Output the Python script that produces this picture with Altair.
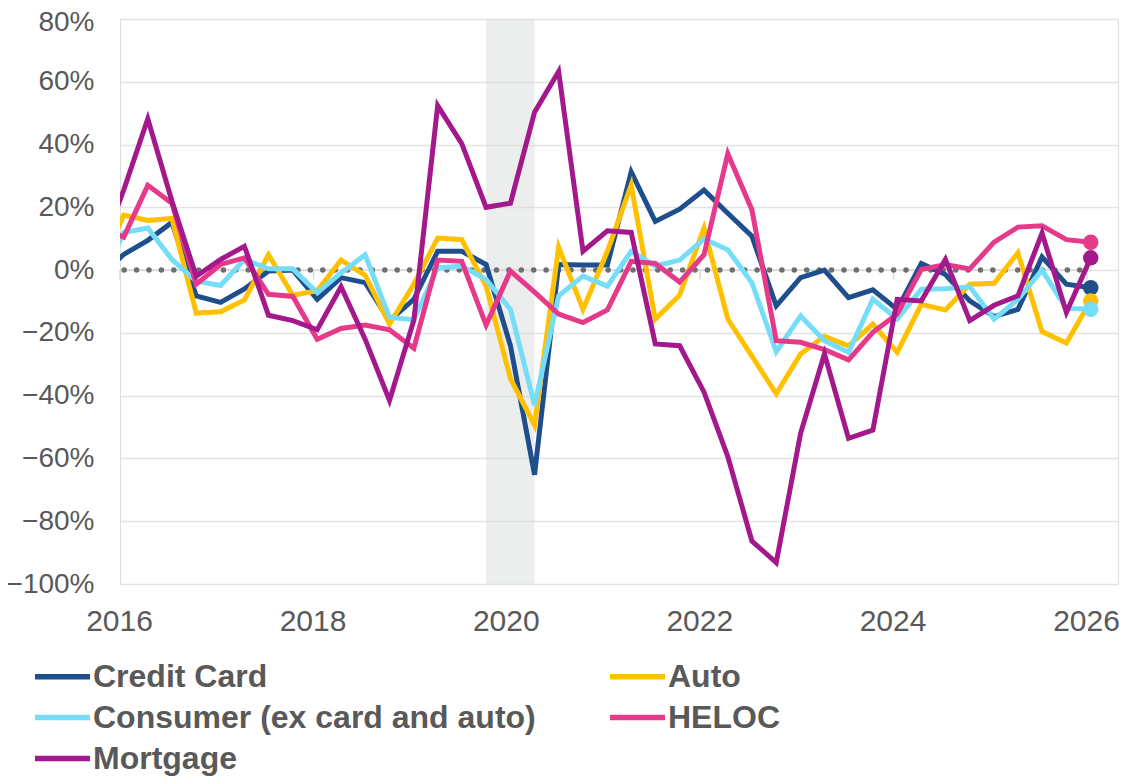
import altair as alt
import pandas as pd

# Quarterly observation dates (first one sits just before the axis start and is clipped)
dates = ["2015-10-15"] + [f"{y}-{m:02d}-15" for y in range(2016, 2026) for m in (1, 4, 7, 10)] + ["2026-01-15"]

series_names = ["Credit Card", "Auto", "Consumer (ex card and auto)", "HELOC", "Mortgage"]
series_colors = ["#1F4E8D", "#FFC000", "#76DDF9", "#E6398A", "#A3198B"]

credit_card = [-2, 5, 9.5, 15.2, -8.2, -10.3, -6, -0.3, 0, -9.3, -2.4, -4, -16.1, -9.3, 6, 6, 1.8,
               -24.1, -65.2, 1.8, 1.6, 1.6, 31.3, 15.5, 19.4, 25.5, 18.1, 10.8, -11.4, -2.4, 0,
               -8.8, -6.3, -12.5, 2.1, -1.4, -9.8, -14.8, -12.5, 4.2, -4.5, -5.6]
auto = [0, 17.5, 15.8, 16.5, -13.7, -13.3, -9.5, 4.9, -8, -6.6, 3.2, -1.6, -17.2, -4.5, 10.2, 9.7,
        -5.1, -34.6, -49.4, 7.3, -12.5, 6, 27.1, -15.6, -8, 13.4, -15.6, -27.4, -39.4, -26.7,
        -21.1, -24.1, -17.2, -26.2, -10.9, -12.7, -4.5, -4.2, 5.5, -19.6, -23.2, -9.8]
consumer = [-5, 12, 13.4, 3.4, -3.5, -4.9, 3.4, 0.4, 0.4, -7.2, -0.9, 4.9, -15.1, -15.8, 0.7, 1.3,
            -3, -12.5, -43, -8.2, -1.9, -5.1, 6, 1.3, 3.2, 9.9, 6.5, -4, -26, -14.6, -22.5, -26.2,
            -9.3, -15.6, -6.1, -5.9, -5.3, -15.6, -9.3, 0, -12.2, -12.5]
heloc = [14, 10.5, 27, 21.3, -4.5, 1.8, 3.9, -7.7, -8.4, -22, -18.6, -17.5, -19, -24.9, 3.2, 2.8,
         -17.5, -0.3, -7, -14, -16.7, -12.7, 2.8, 2.1, -3.8, 4.9, 37.1, 19.2, -22.5, -23, -25.3,
         -28.6, -19.8, -14, 0.2, 1.8, 0.4, 8.9, 13.7, 14.1, 9.7, 8.9]
mortgage = [5, 25.5, 48.2, 22, -2, 3.4, 7.6, -14.4, -16.1, -19, -5.3, -22, -41.5, -16, 52.4, 40.3,
            20, 21.3, 50.3, 63.3, 6, 12.5, 12, -23.5, -24.1, -38.8, -59.4, -86.3, -93.2, -52, -26.7,
            -53.6, -51, -9.3, -9.8, 3.4, -16.1, -11.2, -8.2, 11.8, -13.5, 3.9]

recession_start = ["2019-10-15"]
recession_end = ["2020-04-15"]
x_tick_years = [2016, 2018, 2020, 2022, 2024, 2026]

all_values = [credit_card, auto, consumer, heloc, mortgage]
rows = []
for name, vals in zip(series_names, all_values):
    for d, v in zip(dates, vals):
        rows.append({"date": d, "value": v, "series": name})
df = pd.DataFrame(rows)
last_df = df[df["date"] == dates[-1]]

band_df = pd.DataFrame({"start": recession_start, "end": recession_end})
zero_df = pd.DataFrame({"start": [dates[0]], "end": [dates[-1]], "zero": [0]})
tick_df = pd.DataFrame({"date": [f"{y}-01-01" for y in x_tick_years]})

FONT = "Liberation Sans"
TXT = "#595959"

x_scale = alt.Scale(domain=[alt.DateTime(year=2016, month=1, date=1),
                            alt.DateTime(year=2026, month=4, date=28)])
y_scale = alt.Scale(domain=[-100, 80], nice=False, zero=False)

x_axis = alt.Axis(values=[alt.DateTime(year=y, month=1, date=1) for y in x_tick_years],
                  format="%Y", title=None, grid=False, domain=False, ticks=False,
                  labelFontSize=30, labelColor=TXT, labelFont=FONT, labelPadding=22,
                  labelFlush=False, labelOffset=-1)
y_axis = alt.Axis(values=list(range(-100, 81, 20)), title=None, grid=True, domain=False,
                  ticks=False, labelExpr="format(datum.value/100, '.0%')",
                  labelOffset=alt.ExprRef(expr="datum.value == 80 ? 3 : 0"),
                  labelFontSize=28, labelColor=TXT, labelFont=FONT, labelPadding=26,
                  gridColor="#E3E3E3", gridWidth=1.6)

color = alt.Color("series:N",
                  scale=alt.Scale(domain=series_names, range=series_colors),
                  legend=alt.Legend(orient="none", legendX=-74, legendY=641, columns=2,
                                    direction="horizontal",
                                    title=None, symbolType="M-2,0H2", symbolSize=756,
                                    symbolStrokeWidth=5.5, labelFontSize=32,
                                    labelFontWeight="bold", labelColor=TXT, labelFont=FONT,
                                    labelOffset=14, labelLimit=0, columnPadding=63,
                                    rowPadding=8, padding=0))

band = alt.Chart(band_df).mark_rect(color="#D5DAD8", opacity=0.45).encode(
    x=alt.X("start:T", scale=x_scale, axis=x_axis),
    x2="end:T",
    y=alt.datum(-100, scale=y_scale, axis=y_axis),
    y2=alt.datum(80),
)

axis_line = alt.Chart(zero_df).mark_rule(color="#D9D9D9", strokeWidth=1.5, clip=True).encode(
    x=alt.X("start:T"), x2="end:T", y=alt.Y("zero:Q"))

ticks = alt.Chart(tick_df).mark_rule(color="#D9D9D9", strokeWidth=1.5).encode(
    x="date:T", y=alt.datum(0), y2=alt.datum(-3))

zero_dots = alt.Chart(zero_df).mark_rule(color="#6D6E71", strokeWidth=5.5, strokeCap="round",
                                         strokeDash=[0.01, 12.4], clip=True).encode(
    x=alt.X("start:T"), x2="end:T", y=alt.Y("zero:Q"))

lines = alt.Chart(df).mark_line(strokeWidth=5, clip=True, strokeJoin="miter").encode(
    x="date:T", y="value:Q", color=color, detail="series:N")

dots = alt.Chart(last_df).mark_circle(size=240, opacity=1).encode(
    x="date:T", y="value:Q", color=alt.Color("series:N", legend=None))

chart = alt.layer(band, axis_line, ticks, zero_dots, lines, dots).properties(
    width=998, height=565,
    autosize=alt.AutoSizeParams(type="none"),
    padding={"left": 112, "top": 11, "right": 1, "bottom": 195},
).configure_view(stroke=None).configure(font=FONT)

chart.save("out.html", embed_options={"renderer": "svg", "actions": False})
